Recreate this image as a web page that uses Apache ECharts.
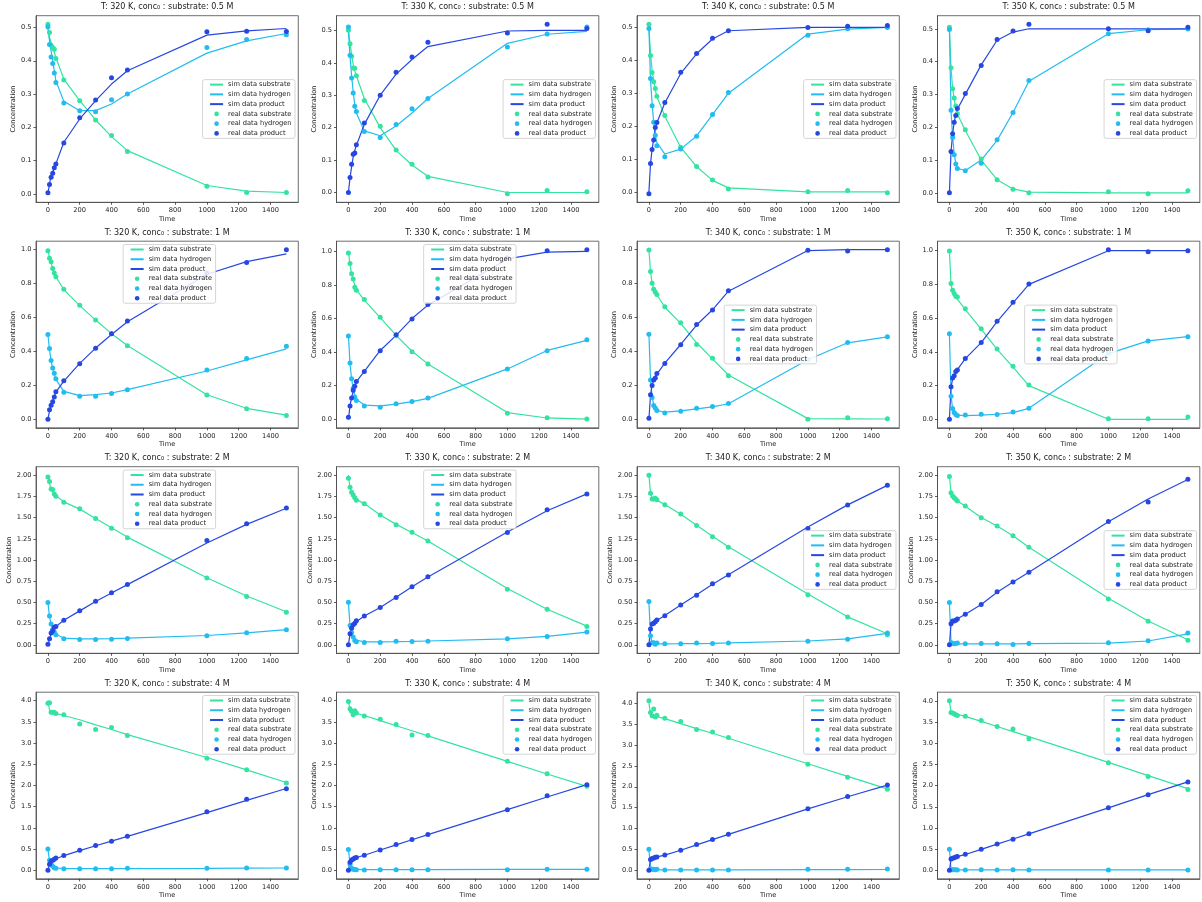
<!DOCTYPE html>
<html>
<head>
<meta charset="utf-8">
<script src="https://cdn.jsdelivr.net/npm/echarts@6/dist/echarts.min.js"></script>
<style>
html,body{margin:0;padding:0;background:#fff;}
#chart{width:1202px;height:902px;}
</style>
</head>
<body>
<div id="chart"></div>
<script>
// ---------------- DATA ----------------
const times = [0, 10, 20, 30, 40, 50, 100, 200, 300, 400, 500, 1000, 1250, 1500];
const temperatures = [320, 330, 340, 350];
const concLabels = ['0.5', '1', '2', '4'];
const xTicks = [0, 200, 400, 600, 800, 1000, 1200, 1400];
const yTickSteps = [0.1, 0.2, 0.25, 0.5];
const yTickDecimals = [1, 1, 2, 1];
const seriesNames = ['sim data substrate', 'sim data hydrogen', 'sim data product',
                     'real data substrate', 'real data hydrogen', 'real data product'];

// T 320 K, 0.5 M
const sim_320_05_sub = [0.5, 0.47, 0.455, 0.44, 0.425, 0.41, 0.345, 0.28, 0.222, 0.172, 0.13, 0.025, 0.008, 0.004];
const sim_320_05_h2  = [0.5, 0.46, 0.43, 0.40, 0.37, 0.34, 0.278, 0.25, 0.25, 0.27, 0.3, 0.423, 0.46, 0.482];
const sim_320_05_pro = [0, 0.03, 0.055, 0.065, 0.078, 0.09, 0.155, 0.225, 0.28, 0.33, 0.37, 0.477, 0.49, 0.497];
const real_320_05_sub = [0.51, 0.485, 0.447, 0.44, 0.435, 0.407, 0.342, 0.28, 0.222, 0.175, 0.127, 0.023, 0.004, 0.004];
const real_320_05_h2  = [0.502, 0.449, 0.411, 0.392, 0.363, 0.335, 0.273, 0.25, 0.247, 0.283, 0.3, 0.44, 0.464, 0.478];
const real_320_05_pro = [0.003, 0.028, 0.05, 0.062, 0.078, 0.09, 0.153, 0.229, 0.282, 0.349, 0.372, 0.487, 0.489, 0.488];
// T 330 K, 0.5 M
const sim_330_05_sub = [0.5, 0.46, 0.425, 0.395, 0.375, 0.36, 0.29, 0.2, 0.13, 0.085, 0.05, 0.0, 0.0, 0.0];
const sim_330_05_h2  = [0.5, 0.42, 0.36, 0.31, 0.27, 0.245, 0.19, 0.175, 0.205, 0.245, 0.29, 0.46, 0.488, 0.497];
const sim_330_05_pro = [0, 0.045, 0.08, 0.11, 0.13, 0.145, 0.21, 0.3, 0.365, 0.41, 0.45, 0.498, 0.5, 0.5];
const real_330_05_sub = [0.5, 0.459, 0.42, 0.384, 0.383, 0.36, 0.284, 0.204, 0.131, 0.087, 0.048, -0.004, 0.006, 0.002];
const real_330_05_h2  = [0.51, 0.423, 0.353, 0.307, 0.266, 0.25, 0.188, 0.17, 0.21, 0.258, 0.29, 0.449, 0.489, 0.51];
const real_330_05_pro = [0.0, 0.046, 0.087, 0.118, 0.122, 0.147, 0.214, 0.3, 0.371, 0.418, 0.463, 0.492, 0.519, 0.506];
// T 340 K, 0.5 M
const sim_340_05_sub = [0.5, 0.42, 0.37, 0.34, 0.31, 0.29, 0.23, 0.135, 0.077, 0.035, 0.012, 0.0, 0.0, 0.0];
const sim_340_05_h2  = [0.5, 0.34, 0.27, 0.21, 0.17, 0.15, 0.115, 0.13, 0.17, 0.235, 0.3, 0.48, 0.495, 0.5];
const sim_340_05_pro = [0, 0.085, 0.13, 0.16, 0.19, 0.21, 0.27, 0.36, 0.42, 0.465, 0.49, 0.5, 0.5, 0.5];
const real_340_05_sub = [0.51, 0.415, 0.363, 0.335, 0.314, 0.291, 0.232, 0.136, 0.077, 0.036, 0.009, 0.0, 0.004, -0.003];
const real_340_05_h2  = [0.497, 0.345, 0.262, 0.212, 0.172, 0.14, 0.107, 0.13, 0.169, 0.235, 0.302, 0.476, 0.496, 0.5];
const real_340_05_pro = [-0.006, 0.086, 0.129, 0.158, 0.196, 0.211, 0.272, 0.364, 0.421, 0.467, 0.49, 0.5, 0.504, 0.506];
// T 350 K, 0.5 M
const sim_350_05_sub = [0.5, 0.38, 0.32, 0.285, 0.26, 0.24, 0.19, 0.1, 0.04, 0.012, 0.002, 0, 0, 0];
const sim_350_05_h2  = [0.5, 0.25, 0.17, 0.12, 0.09, 0.075, 0.068, 0.1, 0.16, 0.245, 0.34, 0.485, 0.497, 0.5];
const sim_350_05_pro = [0, 0.125, 0.18, 0.215, 0.24, 0.255, 0.3, 0.39, 0.465, 0.49, 0.5, 0.5, 0.5, 0.5];
const real_350_05_sub = [0.505, 0.381, 0.317, 0.289, 0.265, 0.242, 0.192, 0.103, 0.04, 0.011, 0.0, 0.003, -0.003, 0.006];
const real_350_05_h2  = [0.498, 0.252, 0.169, 0.116, 0.088, 0.074, 0.067, 0.09, 0.162, 0.245, 0.342, 0.485, 0.497, 0.499];
const real_350_05_pro = [0.0, 0.126, 0.18, 0.215, 0.236, 0.257, 0.303, 0.388, 0.467, 0.493, 0.514, 0.5, 0.494, 0.505];

// T 320 K, 1 M
const sim_320_1_sub = [1.0, 0.95, 0.92, 0.89, 0.865, 0.84, 0.765, 0.67, 0.585, 0.505, 0.435, 0.145, 0.065, 0.025];
const sim_320_1_h2  = [0.5, 0.41, 0.345, 0.3, 0.265, 0.235, 0.165, 0.14, 0.145, 0.155, 0.175, 0.285, 0.35, 0.415];
const sim_320_1_pro = [0, 0.05, 0.08, 0.105, 0.135, 0.16, 0.225, 0.33, 0.42, 0.5, 0.575, 0.855, 0.93, 0.975];
const real_320_1_sub = [0.994, 0.95, 0.929, 0.889, 0.862, 0.84, 0.767, 0.672, 0.585, 0.504, 0.433, 0.144, 0.063, 0.022];
const real_320_1_h2  = [0.5, 0.417, 0.346, 0.302, 0.271, 0.239, 0.16, 0.136, 0.136, 0.152, 0.174, 0.29, 0.358, 0.431];
const real_320_1_pro = [0, 0.057, 0.083, 0.103, 0.132, 0.162, 0.227, 0.328, 0.419, 0.504, 0.579, 0.862, 0.925, 1.0];
// T 330 K, 1 M
const sim_330_1_sub = [1.0, 0.92, 0.865, 0.83, 0.8, 0.77, 0.71, 0.605, 0.5, 0.405, 0.33, 0.04, 0.008, 0.001];
const sim_330_1_h2  = [0.5, 0.33, 0.24, 0.185, 0.145, 0.12, 0.085, 0.08, 0.09, 0.105, 0.125, 0.3, 0.41, 0.47];
const sim_330_1_pro = [0, 0.08, 0.13, 0.165, 0.2, 0.225, 0.285, 0.41, 0.5, 0.6, 0.68, 0.955, 0.995, 1.0];
const real_330_1_sub = [0.99, 0.928, 0.867, 0.835, 0.787, 0.769, 0.713, 0.608, 0.498, 0.402, 0.329, 0.036, 0.01, 0.002];
const real_330_1_h2  = [0.496, 0.335, 0.241, 0.185, 0.133, 0.112, 0.08, 0.072, 0.092, 0.106, 0.127, 0.3, 0.408, 0.474];
const real_330_1_pro = [0.012, 0.08, 0.127, 0.173, 0.197, 0.225, 0.285, 0.408, 0.504, 0.598, 0.683, 0.962, 1.004, 1.01];
// T 340 K, 1 M
const sim_340_1_sub = [1.0, 0.87, 0.8, 0.77, 0.75, 0.735, 0.66, 0.565, 0.45, 0.355, 0.26, 0.002, 0.001, 0.0];
const sim_340_1_h2  = [0.5, 0.235, 0.13, 0.085, 0.065, 0.05, 0.04, 0.048, 0.06, 0.072, 0.09, 0.35, 0.45, 0.485];
const sim_340_1_pro = [0, 0.14, 0.2, 0.23, 0.25, 0.265, 0.33, 0.44, 0.555, 0.645, 0.755, 0.995, 1.0, 1.0];
const real_340_1_sub = [0.998, 0.871, 0.802, 0.766, 0.75, 0.736, 0.663, 0.569, 0.44, 0.359, 0.256, -0.002, 0.008, 0.002];
const real_340_1_h2  = [0.5, 0.23, 0.127, 0.079, 0.065, 0.05, 0.036, 0.046, 0.063, 0.073, 0.091, 0.351, 0.452, 0.486];
const real_340_1_pro = [0.004, 0.143, 0.198, 0.23, 0.242, 0.268, 0.327, 0.438, 0.558, 0.643, 0.758, 0.996, 0.992, 1.0];
// T 350 K, 1 M
const sim_350_1_sub = [1.0, 0.8, 0.76, 0.74, 0.725, 0.715, 0.65, 0.535, 0.415, 0.31, 0.2, 0.0, 0.0, 0.0];
const sim_350_1_h2  = [0.5, 0.14, 0.065, 0.04, 0.03, 0.025, 0.022, 0.025, 0.03, 0.04, 0.065, 0.39, 0.465, 0.49];
const sim_350_1_pro = [0, 0.19, 0.24, 0.26, 0.28, 0.295, 0.36, 0.455, 0.58, 0.69, 0.8, 1.0, 1.0, 1.0];
const real_350_1_sub = [0.998, 0.805, 0.765, 0.746, 0.73, 0.726, 0.656, 0.537, 0.417, 0.314, 0.203, 0.004, 0.004, 0.014];
const real_350_1_h2  = [0.507, 0.137, 0.064, 0.04, 0.028, 0.022, 0.026, 0.03, 0.028, 0.044, 0.066, 0.392, 0.465, 0.489];
const real_350_1_pro = [0, 0.193, 0.245, 0.258, 0.284, 0.292, 0.36, 0.455, 0.582, 0.694, 0.803, 1.006, 0.994, 1.0];

// T 320 K, 2 M
const sim_320_2_sub = [2.0, 1.9, 1.84, 1.8, 1.775, 1.755, 1.685, 1.6, 1.49, 1.38, 1.27, 0.79, 0.575, 0.39];
const sim_320_2_h2  = [0.5, 0.33, 0.24, 0.185, 0.15, 0.125, 0.08, 0.07, 0.07, 0.073, 0.078, 0.11, 0.14, 0.18];
const sim_320_2_pro = [0, 0.07, 0.13, 0.17, 0.2, 0.22, 0.29, 0.4, 0.51, 0.61, 0.71, 1.2, 1.42, 1.61];
const real_320_2_sub = [1.98, 1.925, 1.838, 1.83, 1.779, 1.751, 1.68, 1.605, 1.49, 1.375, 1.261, 0.787, 0.569, 0.383];
const real_320_2_h2  = [0.498, 0.34, 0.245, 0.182, 0.15, 0.119, 0.071, 0.063, 0.063, 0.067, 0.075, 0.107, 0.142, 0.178];
const real_320_2_pro = [0.008, 0.071, 0.138, 0.166, 0.206, 0.217, 0.289, 0.403, 0.514, 0.613, 0.711, 1.229, 1.427, 1.613];
// T 330 K, 2 M
const sim_330_2_sub = [2.0, 1.85, 1.8, 1.77, 1.74, 1.715, 1.665, 1.53, 1.42, 1.325, 1.225, 0.665, 0.42, 0.22];
const sim_330_2_h2  = [0.5, 0.22, 0.14, 0.09, 0.06, 0.045, 0.035, 0.035, 0.037, 0.04, 0.045, 0.07, 0.1, 0.15];
const sim_330_2_pro = [0, 0.13, 0.2, 0.235, 0.26, 0.28, 0.34, 0.44, 0.56, 0.685, 0.8, 1.33, 1.58, 1.78];
const real_330_2_sub = [1.964, 1.858, 1.798, 1.767, 1.735, 1.704, 1.664, 1.53, 1.415, 1.328, 1.225, 0.656, 0.419, 0.217];
const real_330_2_h2  = [0.502, 0.229, 0.146, 0.091, 0.051, 0.036, 0.028, 0.028, 0.043, 0.04, 0.043, 0.071, 0.099, 0.15];
const real_330_2_pro = [0, 0.13, 0.194, 0.237, 0.253, 0.285, 0.34, 0.439, 0.557, 0.684, 0.802, 1.324, 1.593, 1.779];
// T 340 K, 2 M
const sim_340_2_sub = [2.0, 1.79, 1.73, 1.72, 1.715, 1.705, 1.655, 1.54, 1.41, 1.28, 1.155, 0.6, 0.33, 0.13];
const sim_340_2_h2  = [0.5, 0.1, 0.03, 0.015, 0.012, 0.012, 0.012, 0.013, 0.015, 0.018, 0.022, 0.045, 0.07, 0.135];
const sim_340_2_pro = [0, 0.19, 0.245, 0.26, 0.275, 0.29, 0.345, 0.47, 0.59, 0.715, 0.825, 1.39, 1.65, 1.88];
const real_340_2_sub = [2.0, 1.787, 1.719, 1.719, 1.727, 1.711, 1.652, 1.542, 1.407, 1.273, 1.15, 0.589, 0.328, 0.119];
const real_340_2_h2  = [0.51, 0.107, 0.024, 0.024, 0.008, 0.02, 0.012, 0.012, 0.02, 0.016, 0.02, 0.043, 0.067, 0.138];
const real_340_2_pro = [0, 0.186, 0.245, 0.253, 0.273, 0.292, 0.344, 0.47, 0.585, 0.72, 0.822, 1.372, 1.648, 1.881];
// T 350 K, 2 M
const sim_350_2_sub = [2.0, 1.79, 1.75, 1.73, 1.71, 1.695, 1.635, 1.5, 1.4, 1.285, 1.15, 0.55, 0.28, 0.06];
const sim_350_2_h2  = [0.5, 0.03, 0.012, 0.01, 0.01, 0.01, 0.01, 0.01, 0.01, 0.012, 0.013, 0.02, 0.045, 0.13];
const sim_350_2_pro = [0, 0.25, 0.28, 0.285, 0.295, 0.305, 0.36, 0.475, 0.62, 0.74, 0.855, 1.45, 1.72, 1.95];
const real_350_2_sub = [1.984, 1.794, 1.754, 1.735, 1.715, 1.695, 1.636, 1.497, 1.402, 1.287, 1.149, 0.539, 0.277, 0.055];
const real_350_2_h2  = [0.499, 0.028, 0.016, 0.012, 0.016, 0.02, 0.012, 0.016, 0.012, 0.004, 0.016, 0.024, 0.047, 0.139];
const real_350_2_pro = [0, 0.249, 0.281, 0.281, 0.289, 0.305, 0.36, 0.475, 0.626, 0.74, 0.855, 1.453, 1.683, 1.952];

// T 320 K, 4 M
const sim_320_4_sub = [4.0, 3.78, 3.74, 3.72, 3.71, 3.70, 3.65, 3.55, 3.43, 3.32, 3.2, 2.66, 2.37, 2.07];
const sim_320_4_h2  = [0.5, 0.22, 0.12, 0.08, 0.06, 0.05, 0.04, 0.038, 0.038, 0.039, 0.04, 0.045, 0.05, 0.055];
const sim_320_4_pro = [0, 0.15, 0.2, 0.235, 0.26, 0.285, 0.345, 0.465, 0.58, 0.69, 0.8, 1.36, 1.65, 1.93];
const real_320_4_sub = [3.94, 3.95, 3.73, 3.73, 3.72, 3.70, 3.67, 3.45, 3.32, 3.37, 3.18, 2.64, 2.37, 2.06];
const real_320_4_h2  = [0.505, 0.237, 0.134, 0.095, 0.063, 0.047, 0.039, 0.039, 0.039, 0.039, 0.047, 0.047, 0.055, 0.055];
const real_320_4_pro = [0, 0.142, 0.213, 0.237, 0.26, 0.292, 0.347, 0.473, 0.584, 0.686, 0.805, 1.38, 1.673, 1.925];
// T 330 K, 4 M
const sim_330_4_sub = [4.0, 3.78, 3.74, 3.72, 3.71, 3.70, 3.65, 3.53, 3.41, 3.29, 3.17, 2.57, 2.27, 1.98];
const sim_330_4_h2  = [0.5, 0.14, 0.05, 0.025, 0.02, 0.018, 0.017, 0.017, 0.018, 0.018, 0.018, 0.02, 0.022, 0.024];
const sim_330_4_pro = [0, 0.19, 0.25, 0.27, 0.29, 0.3, 0.355, 0.48, 0.6, 0.72, 0.84, 1.43, 1.73, 2.02];
const real_330_4_sub = [3.98, 3.81, 3.75, 3.67, 3.76, 3.71, 3.64, 3.56, 3.44, 3.19, 3.18, 2.57, 2.28, 1.98];
const real_330_4_h2  = [0.49, 0.142, 0.047, 0.024, 0.016, 0.016, 0.008, 0.016, 0.016, 0.016, 0.016, 0.016, 0.024, 0.024];
const real_330_4_pro = [0, 0.19, 0.245, 0.269, 0.292, 0.3, 0.356, 0.482, 0.609, 0.727, 0.846, 1.43, 1.76, 2.015];
// T 340 K, 4 M
const sim_340_4_sub = [4.0, 3.74, 3.71, 3.7, 3.69, 3.68, 3.63, 3.51, 3.39, 3.28, 3.16, 2.55, 2.25, 1.95];
const sim_340_4_h2  = [0.5, 0.05, 0.02, 0.015, 0.013, 0.012, 0.012, 0.012, 0.012, 0.013, 0.013, 0.015, 0.017, 0.02];
const sim_340_4_pro = [0, 0.25, 0.28, 0.295, 0.31, 0.32, 0.365, 0.48, 0.61, 0.735, 0.86, 1.47, 1.76, 2.04];
const real_340_4_sub = [4.06, 3.78, 3.70, 3.86, 3.67, 3.71, 3.64, 3.56, 3.37, 3.31, 3.18, 2.54, 2.23, 1.94];
const real_340_4_h2  = [0.504, 0.04, 0.024, 0.024, 0.016, 0.024, 0.008, 0.008, 0.008, 0.008, 0.008, 0.024, 0.024, 0.032];
const real_340_4_pro = [0, 0.256, 0.28, 0.296, 0.312, 0.32, 0.368, 0.48, 0.616, 0.736, 0.864, 1.472, 1.768, 2.04];
// T 350 K, 4 M
const sim_350_4_sub = [4.0, 3.74, 3.72, 3.71, 3.70, 3.69, 3.64, 3.52, 3.4, 3.28, 3.16, 2.55, 2.24, 1.93];
const sim_350_4_h2  = [0.5, 0.03, 0.012, 0.01, 0.01, 0.01, 0.01, 0.01, 0.01, 0.01, 0.01, 0.01, 0.01, 0.01];
const sim_350_4_pro = [0, 0.26, 0.285, 0.3, 0.315, 0.325, 0.375, 0.495, 0.62, 0.74, 0.86, 1.475, 1.79, 2.09];
const real_350_4_sub = [4.01, 3.73, 3.72, 3.70, 3.68, 3.66, 3.64, 3.54, 3.40, 3.34, 3.11, 2.54, 2.22, 1.91];
const real_350_4_h2  = [0.498, 0.016, 0.016, 0.016, 0.016, 0.008, 0.008, 0.016, 0.008, 0.016, 0.008, 0.008, 0.008, 0.008];
const real_350_4_pro = [0, 0.269, 0.285, 0.3, 0.316, 0.324, 0.38, 0.498, 0.625, 0.735, 0.862, 1.478, 1.787, 2.087];

// panels row-major: rows = concentration, columns = temperature
const panels = [
  [sim_320_05_sub, sim_320_05_h2, sim_320_05_pro, real_320_05_sub, real_320_05_h2, real_320_05_pro],
  [sim_330_05_sub, sim_330_05_h2, sim_330_05_pro, real_330_05_sub, real_330_05_h2, real_330_05_pro],
  [sim_340_05_sub, sim_340_05_h2, sim_340_05_pro, real_340_05_sub, real_340_05_h2, real_340_05_pro],
  [sim_350_05_sub, sim_350_05_h2, sim_350_05_pro, real_350_05_sub, real_350_05_h2, real_350_05_pro],
  [sim_320_1_sub, sim_320_1_h2, sim_320_1_pro, real_320_1_sub, real_320_1_h2, real_320_1_pro],
  [sim_330_1_sub, sim_330_1_h2, sim_330_1_pro, real_330_1_sub, real_330_1_h2, real_330_1_pro],
  [sim_340_1_sub, sim_340_1_h2, sim_340_1_pro, real_340_1_sub, real_340_1_h2, real_340_1_pro],
  [sim_350_1_sub, sim_350_1_h2, sim_350_1_pro, real_350_1_sub, real_350_1_h2, real_350_1_pro],
  [sim_320_2_sub, sim_320_2_h2, sim_320_2_pro, real_320_2_sub, real_320_2_h2, real_320_2_pro],
  [sim_330_2_sub, sim_330_2_h2, sim_330_2_pro, real_330_2_sub, real_330_2_h2, real_330_2_pro],
  [sim_340_2_sub, sim_340_2_h2, sim_340_2_pro, real_340_2_sub, real_340_2_h2, real_340_2_pro],
  [sim_350_2_sub, sim_350_2_h2, sim_350_2_pro, real_350_2_sub, real_350_2_h2, real_350_2_pro],
  [sim_320_4_sub, sim_320_4_h2, sim_320_4_pro, real_320_4_sub, real_320_4_h2, real_320_4_pro],
  [sim_330_4_sub, sim_330_4_h2, sim_330_4_pro, real_330_4_sub, real_330_4_h2, real_330_4_pro],
  [sim_340_4_sub, sim_340_4_h2, sim_340_4_pro, real_340_4_sub, real_340_4_h2, real_340_4_pro],
  [sim_350_4_sub, sim_350_4_h2, sim_350_4_pro, real_350_4_sub, real_350_4_h2, real_350_4_pro]
];

// ---------------- STYLE / LAYOUT ----------------
const FONT = 'DejaVu Sans';
const TXT = '#1a1a1a';
const colorList = ['#34e3a0', '#22bcf0', '#2747e2'];
const legendLoc = [
  ['cr', 'cr', 'cr', 'cr'],
  ['uc', 'uc', 'c', 'c'],
  ['uc', 'uc', 'cr', 'cr'],
  ['ur', 'ur', 'ur', 'ur']
];
const W = 1202;
const GW = 262.3, GH = 186.6;
const LEG_W = 88, LEG_H = 58.75, LEG_PAD = 3.3;

const grids = [], xAxes = [], yAxes = [], series = [], titles = [], legends = [];

for (let i = 0; i < 4; i++) {
  for (let j = 0; j < 4; j++) {
    const k = i * 4 + j;
    const L = 36 + 300.5 * j;
    const T = 15.7 + 225.5 * i;
    const arrs = panels[k];
    let mn = Infinity, mx = -Infinity;
    arrs.forEach(a => a.forEach(v => { if (v < mn) mn = v; if (v > mx) mx = v; }));
    const r = mx - mn;
    const ymin = mn - 0.05 * r, ymax = mx + 0.05 * r;
    const step = yTickSteps[i], dec = yTickDecimals[i];
    const yTicks = [];
    for (let n = Math.ceil(ymin / step - 1e-9); n * step <= ymax + 1e-9; n++) {
      yTicks.push(+(n * step).toFixed(4));
    }

    grids.push({
      left: L, top: T, width: GW, height: GH,
      show: true, borderColor: '#4a4a4a', borderWidth: 0.8,
      backgroundColor: '#ffffff', containLabel: false, outerBoundsMode: 'none'
    });

    xAxes.push({
      gridIndex: k, type: 'value', min: -75, max: 1575,
      name: 'Time', nameLocation: 'middle', nameGap: 13,
      nameTextStyle: { fontFamily: FONT, fontSize: 6.67, color: TXT },
      axisLine: { show: true, onZero: false, lineStyle: { color: '#4a4a4a', width: 0.8 } },
      axisTick: { show: true, inside: false, length: 2.5, customValues: xTicks,
                  lineStyle: { color: '#333', width: 0.8 } },
      axisLabel: { show: true, customValues: xTicks, margin: 4.5,
                   fontFamily: FONT, fontSize: 6.67, color: TXT,
                   formatter: v => String(Math.round(v)) },
      splitLine: { show: false }
    });

    yAxes.push({
      gridIndex: k, type: 'value', min: ymin, max: ymax,
      name: 'Concentration', nameLocation: 'middle', nameGap: 17, nameRotate: 90,
      nameTextStyle: { fontFamily: FONT, fontSize: 6.67, color: TXT },
      axisLine: { show: true, onZero: false, lineStyle: { color: '#4a4a4a', width: 0.8 } },
      axisTick: { show: true, inside: false, length: 2.5, customValues: yTicks,
                  lineStyle: { color: '#333', width: 0.8 } },
      axisLabel: { show: true, customValues: yTicks, margin: 4.5,
                   fontFamily: FONT, fontSize: 6.67, color: TXT,
                   formatter: v => (Math.abs(v) < 1e-9 ? 0 : v).toFixed(dec) },
      splitLine: { show: false }
    });

    titles.push({
      text: 'T: ' + temperatures[j] + ' K, conc\u2080 : substrate: ' + concLabels[i] + ' M',
      left: L + GW / 2, top: T - 12.5, textAlign: 'center',
      padding: 0,
      textStyle: { fontFamily: FONT, fontSize: 8, fontWeight: 'normal', color: TXT }
    });

    // legend placement
    const loc = legendLoc[i][j];
    const leg = {
      orient: 'vertical', selectedMode: false,
      itemWidth: 13, itemHeight: 4.6, itemGap: 1.75,
      padding: [1, 3.5, 1, 6.5],
      backgroundColor: 'rgba(255,255,255,0.85)', borderColor: '#cccccc',
      borderWidth: 0.8, borderRadius: 2,
      textStyle: { fontFamily: FONT, fontSize: 6.67, color: TXT, lineHeight: 8 },
      data: seriesNames.map((nm, s) => s < 3
        ? { name: nm, itemStyle: { opacity: 0 } }
        : { name: nm, icon: 'circle' })
    };
    if (loc === 'cr') {
      leg.right = W - (L + GW) + LEG_PAD; leg.top = T + GH / 2 - LEG_H / 2;
    } else if (loc === 'uc') {
      leg.left = L + GW / 2 - LEG_W / 2; leg.top = T + LEG_PAD;
    } else if (loc === 'c') {
      leg.left = L + GW / 2 - LEG_W / 2; leg.top = T + GH / 2 - LEG_H / 2;
    } else {
      leg.right = W - (L + GW) + LEG_PAD; leg.top = T + LEG_PAD;
    }
    legends.push(leg);

    for (let s = 0; s < 6; s++) {
      const c = colorList[s % 3];
      const data = times.map((t, n) => [t, arrs[s][n]]);
      if (s < 3) {
        series.push({
          type: 'line', name: seriesNames[s], xAxisIndex: k, yAxisIndex: k,
          data, symbol: 'none', showSymbol: false, silent: true,
          lineStyle: { color: c, width: 1.2 }, itemStyle: { color: c },
          z: 2, animation: false
        });
      } else {
        series.push({
          type: 'scatter', name: seriesNames[s], xAxisIndex: k, yAxisIndex: k,
          data, symbol: 'circle', symbolSize: 5, silent: true,
          itemStyle: { color: c, opacity: 1 },
          z: 3, animation: false
        });
      }
    }
  }
}

const chart = echarts.init(document.getElementById('chart'), null, { renderer: 'canvas' });
chart.setOption({
  backgroundColor: '#ffffff',
  animation: false,
  title: titles,
  legend: legends,
  grid: grids,
  xAxis: xAxes,
  yAxis: yAxes,
  series: series
});
</script>
</body>
</html>
